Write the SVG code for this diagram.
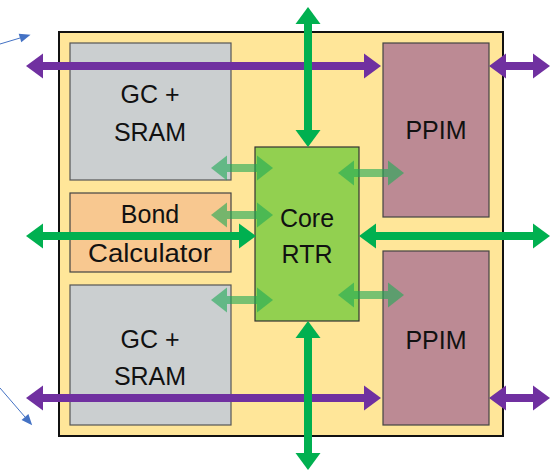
<svg xmlns="http://www.w3.org/2000/svg" width="557" height="471" viewBox="0 0 557 471">
<style>
text{font-family:"Liberation Sans",Arial,sans-serif;font-size:25px;fill:#111;text-anchor:middle}
.gc{fill:#CBCFD0;stroke:#555;stroke-width:1.2}
.pp{fill:#BC8A94;stroke:#444;stroke-width:1.2}
.pu{stroke:#7030A0;stroke-width:8;fill:none;marker-start:url(#hp);marker-end:url(#hp)}
.gr{stroke:#00B050;stroke-width:8;fill:none;marker-start:url(#hg);marker-end:url(#hg)}
.lg{stroke:#1FAA55;stroke-width:8;fill:none;marker-start:url(#hl);marker-end:url(#hl)}
.bl{stroke:#4472C4;stroke-width:1;fill:none;marker-end:url(#hb)}
</style>
<defs>
<marker id="hp" markerUnits="userSpaceOnUse" orient="auto-start-reverse" markerWidth="40" markerHeight="40" refX="0" refY="0" viewBox="-1 -20 40 40" overflow="visible"><path d="M0,-12.5 L17,0 L0,12.5 z" fill="#7030A0"/></marker>
<marker id="hg" markerUnits="userSpaceOnUse" orient="auto-start-reverse" markerWidth="40" markerHeight="40" refX="0" refY="0" viewBox="-1 -20 40 40" overflow="visible"><path d="M0,-12.5 L17,0 L0,12.5 z" fill="#00B050"/></marker>
<marker id="hl" markerUnits="userSpaceOnUse" orient="auto-start-reverse" markerWidth="40" markerHeight="40" refX="0" refY="0" viewBox="-1 -20 40 40" overflow="visible"><path d="M0,-12.5 L16,0 L0,12.5 z" fill="#1FAA55"/></marker>
<marker id="hb" markerUnits="userSpaceOnUse" orient="auto" markerWidth="20" markerHeight="20" refX="0" refY="0" viewBox="-1 -10 20 20" overflow="visible"><path d="M0,-4.5 L11,0 L0,4.5 z" fill="#4472C4"/></marker>
</defs>
<g id="chip"><rect x="59" y="32" width="444" height="404" fill="#FFE699" stroke="#111" stroke-width="2"/></g>
<g id="gc-sram-top"><rect class="gc" x="70" y="43" width="161" height="137"/><text x="150" y="103">GC +</text><text x="150" y="141">SRAM</text></g>
<g id="bond-calc"><rect x="70" y="193" width="161" height="79" fill="#F8C890" stroke="#444" stroke-width="1.2"/><text x="150" y="223">Bond</text><text x="150" y="262" textLength="124" lengthAdjust="spacingAndGlyphs">Calculator</text></g>
<g id="gc-sram-bottom"><rect class="gc" x="70" y="285" width="161" height="140"/><text x="150" y="348">GC +</text><text x="150" y="385">SRAM</text></g>
<g id="core-rtr"><rect x="255" y="147" width="104" height="174" fill="#92D050" stroke="#333" stroke-width="1.2"/><text x="307" y="227">Core</text><text x="307" y="263">RTR</text></g>
<g id="ppim-top"><rect class="pp" x="383" y="43" width="106" height="174"/><text x="436" y="139">PPIM</text></g>
<g id="ppim-bottom"><rect class="pp" x="383" y="251" width="106" height="174"/><text x="436" y="349">PPIM</text></g>
<g id="connectors">
<line class="pu" x1="43" y1="66" x2="364" y2="66"/>
<line class="pu" x1="506" y1="66" x2="533" y2="66"/>
<line class="pu" x1="43" y1="398" x2="364" y2="398"/>
<line class="pu" x1="506" y1="398" x2="533" y2="398"/>
<line class="gr" x1="308" y1="24" x2="308" y2="130"/>
<line class="gr" x1="308" y1="338" x2="308" y2="453"/>
<line class="gr" x1="43" y1="236" x2="239" y2="236"/>
<line class="gr" x1="376" y1="236" x2="533" y2="236"/>
<g opacity="0.6">
<line class="lg" x1="227" y1="168" x2="257" y2="168"/>
<line class="lg" x1="227" y1="215" x2="257" y2="215"/>
<line class="lg" x1="227" y1="300" x2="257" y2="300"/>
<line class="lg" x1="354" y1="173" x2="388" y2="173"/>
<line class="lg" x1="354" y1="295" x2="388" y2="295"/>
</g>
<line class="bl" x1="0" y1="44" x2="20" y2="38"/>
<line class="bl" x1="0" y1="388" x2="25" y2="417"/>
</g>
</svg>
